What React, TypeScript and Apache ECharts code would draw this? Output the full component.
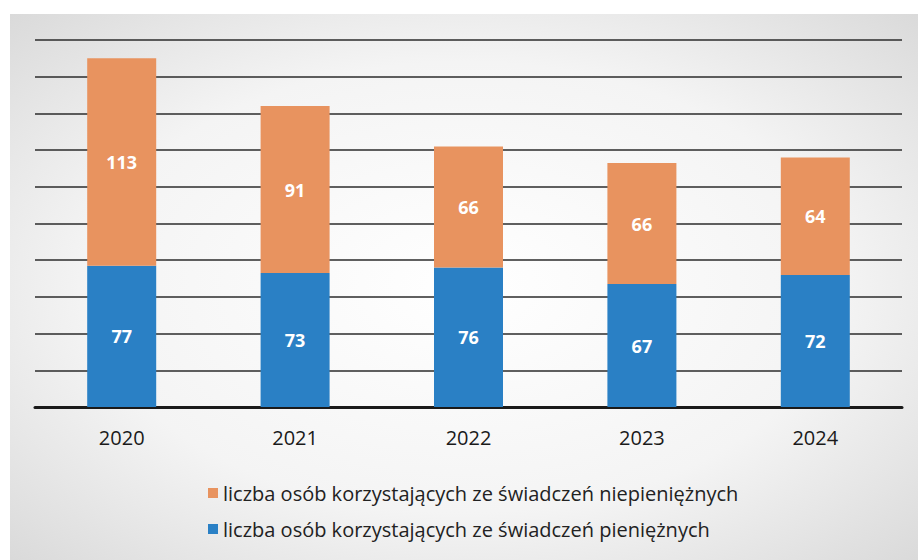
import React, { useEffect, useRef } from "react";
import * as echarts from "echarts";

const categories = ["2020", "2021", "2022", "2023", "2024"];
const cashValues = [77, 73, 76, 67, 72];
const nonCashValues = [113, 91, 66, 66, 64];
const nonCashName = "liczba osób korzystających ze świadczeń niepieniężnych";
const cashName = "liczba osób korzystających ze świadczeń pieniężnych";

const FONT = "'Open Sans', 'Noto Sans', sans-serif";

export default function App() {
  const ref = useRef<HTMLDivElement>(null);
  useEffect(() => {
    if (!ref.current) return;
    const chart = echarts.init(ref.current, undefined, { renderer: "svg" });
    chart.setOption({
      animation: false,
      backgroundColor: "#ffffff",
      graphic: [
        {
          type: "rect",
          z: -10,
          silent: true,
          shape: { x: 10, y: 14, width: 908, height: 546 },
          style: {
            fill: new echarts.graphic.RadialGradient(0.5, 0.5, 0.75, [
              { offset: 0, color: "#ffffff" },
              { offset: 0.55, color: "#f4f4f4" },
              { offset: 1, color: "#d6d6d6" },
            ]),
          },
        },
      ],
      grid: { left: 35, right: 16, top: 40, bottom: 153 },
      legend: {
        orient: "vertical",
        left: 203,
        top: 478,
        itemWidth: 10,
        itemHeight: 10,
        itemGap: 16,
        icon: "rect",
        data: [nonCashName, cashName],
        textStyle: { fontFamily: FONT, fontSize: 20, color: "#222" },
      },
      xAxis: {
        type: "category",
        data: categories,
        axisTick: { show: false },
        axisLine: { show: true, lineStyle: { color: "#1a1a1a", width: 3 } },
        axisLabel: { fontFamily: FONT, fontSize: 20, color: "#1a1a1a", margin: 20 },
      },
      yAxis: {
        type: "value",
        min: 0,
        max: 200,
        interval: 20,
        axisLabel: { show: false },
        axisLine: { show: false },
        axisTick: { show: false },
        splitLine: { lineStyle: { color: "#2b2b2b", width: 1.5 } },
      },
      series: [
        {
          name: cashName,
          type: "bar",
          stack: "total",
          data: cashValues,
          barWidth: 69,
          itemStyle: { color: "#2A80C5" },
          label: {
            show: true,
            position: "inside",
            color: "#ffffff",
            fontFamily: FONT,
            fontSize: 18,
            fontWeight: "bold",
          },
        },
        {
          name: nonCashName,
          type: "bar",
          stack: "total",
          data: nonCashValues,
          barWidth: 69,
          itemStyle: { color: "#E8935F" },
          label: {
            show: true,
            position: "inside",
            color: "#ffffff",
            fontFamily: FONT,
            fontSize: 18,
            fontWeight: "bold",
          },
        },
      ],
    });
    return () => chart.dispose();
  }, []);
  return <div ref={ref} style={{ width: 918, height: 560, position: "absolute", left: 0, top: 0 }} />;
}
